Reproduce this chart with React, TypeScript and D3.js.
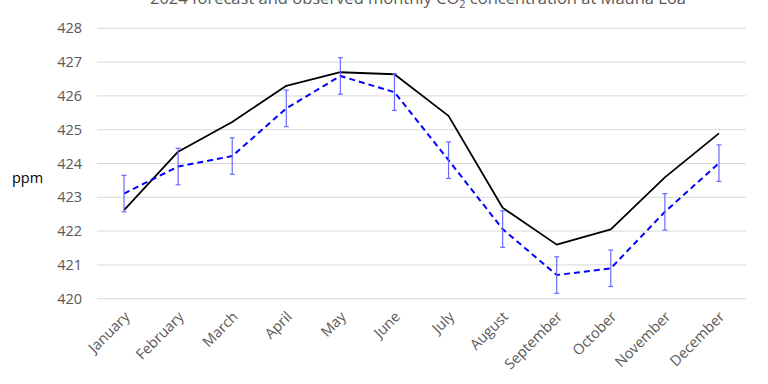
import React from "react";
import * as d3 from "d3";

const months = ["January","February","March","April","May","June","July","August","September","October","November","December"];
const observed = [422.62, 424.35, 425.23, 426.3, 426.7, 426.64, 425.41, 422.69, 421.6, 422.05, 423.59, 424.89];
const forecast = [423.11, 423.91, 424.22, 425.63, 426.59, 426.11, 424.1, 422.06, 420.7, 420.9, 422.57, 424.01];
const uncertainty = [0.54, 0.54, 0.54, 0.54, 0.54, 0.54, 0.54, 0.54, 0.54, 0.54, 0.54, 0.54];
const yTicks = [420, 421, 422, 423, 424, 425, 426, 427, 428];

const W = 768, H = 384;
const FONT = "'Open Sans', 'Liberation Sans', sans-serif";

export default function App() {
  const x = d3.scaleBand<string>().domain(months).range([97, 746]);
  const y = d3.scaleLinear().domain([420, 428]).range([298.7, 28.3]);
  const cx = (m: string) => (x(m) as number) + x.bandwidth() / 2;
  const line = d3.line<number>().x((_, i) => cx(months[i])).y(v => y(v));

  return (
    <svg width={W} height={H} style={{ position: "absolute", left: 0, top: 0, background: "#fff" }} fontFamily={FONT}>
      <rect width={W} height={H} fill="#fff" />
      <text x={418} y={4} textAnchor="middle" fontSize={16.5} fill="#595959">
        2024 forecast and observed monthly CO<tspan fontSize={11} dy={4}>2</tspan><tspan dy={-4}> concentration at Mauna Loa</tspan>
      </text>
      {yTicks.map(t => (
        <g key={t}>
          <line x1={97} x2={746} y1={y(t)} y2={y(t)} stroke="#d9d9d9" strokeWidth={1} />
          <text x={82} y={y(t)} dy="0.35em" textAnchor="end" fontSize={14.5} fill="#595959">{t}</text>
        </g>
      ))}
      <text x={12} y={178} dy="0.35em" fontSize={14.5} fill="#000">ppm</text>
      {months.map(m => (
        <text key={m} transform={`translate(${cx(m) + 3},${314}) rotate(-45)`} textAnchor="end" dy="0.35em" fontSize={14.5} fill="#595959">{m}</text>
      ))}
      <path d={line(observed) || ""} fill="none" stroke="#000" strokeWidth={1.8} strokeLinejoin="round" />
      <path d={line(forecast) || ""} fill="none" stroke="#0000ff" strokeWidth={2} strokeDasharray="6,4" />
      {forecast.map((v, i) => {
        const px = cx(months[i]);
        const y1 = y(v + uncertainty[i]);
        const y2 = y(v - uncertainty[i]);
        return (
          <g key={i} stroke="#6a6aff" strokeWidth={1.2}>
            <line x1={px} x2={px} y1={y1} y2={y2} />
            <line x1={px - 2.5} x2={px + 2.5} y1={y1} y2={y1} />
            <line x1={px - 2.5} x2={px + 2.5} y1={y2} y2={y2} />
          </g>
        );
      })}
    </svg>
  );
}
